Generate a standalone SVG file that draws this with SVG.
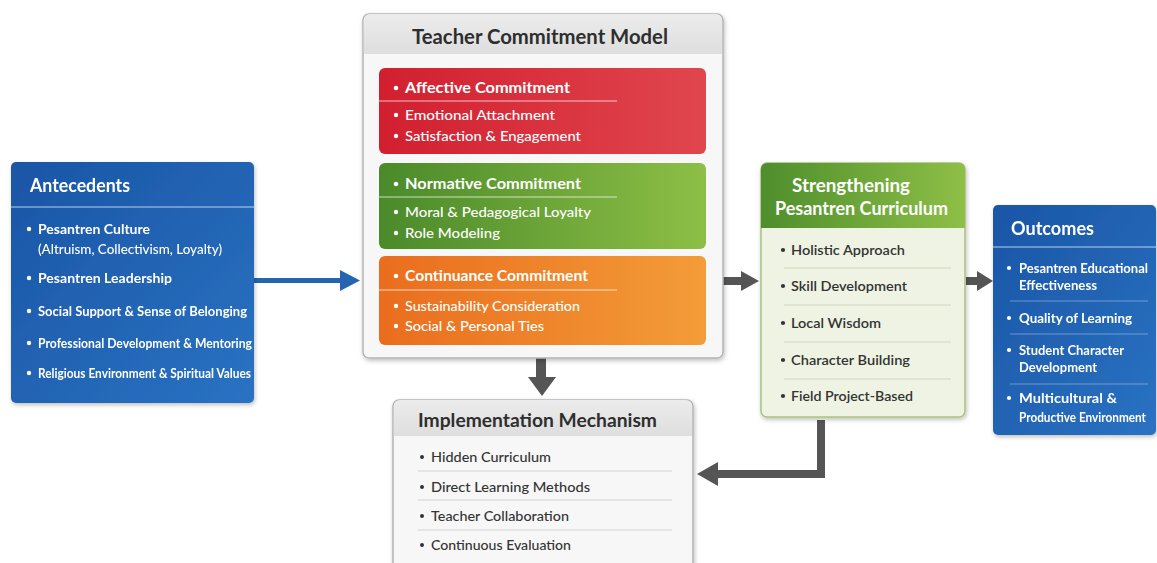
<svg xmlns="http://www.w3.org/2000/svg" width="1157" height="563" viewBox="0 0 1157 563">
  <defs>
    <linearGradient id="gBlue" x1="0" y1="0" x2="1" y2="1">
      <stop offset="0" stop-color="#1a55a6"/>
      <stop offset="1" stop-color="#2a72c2"/>
    </linearGradient>
    <linearGradient id="gRed" x1="0" y1="0" x2="1" y2="0">
      <stop offset="0" stop-color="#d21f2f"/>
      <stop offset="1" stop-color="#e0464e"/>
    </linearGradient>
    <linearGradient id="gGreen" x1="0" y1="0" x2="1" y2="0">
      <stop offset="0" stop-color="#4a8a2a"/>
      <stop offset="1" stop-color="#8dbf46"/>
    </linearGradient>
    <linearGradient id="gOrange" x1="0" y1="0" x2="1" y2="0">
      <stop offset="0" stop-color="#ea6d1e"/>
      <stop offset="1" stop-color="#f39c38"/>
    </linearGradient>
    <linearGradient id="gHead" x1="0" y1="0" x2="1" y2="0">
      <stop offset="0" stop-color="#4e8e2c"/>
      <stop offset="1" stop-color="#8ebf47"/>
    </linearGradient>
    <linearGradient id="gGrey" x1="0" y1="0" x2="0" y2="1">
      <stop offset="0" stop-color="#ececec"/>
      <stop offset="1" stop-color="#dedede"/>
    </linearGradient>
    <filter id="shadow" x="-10%" y="-10%" width="120%" height="120%">
      <feDropShadow dx="1" dy="2" stdDeviation="2" flood-color="#000" flood-opacity="0.25"/>
    </filter>
  </defs>
  <style>
    text { font-family: Lato, "Open Sans", "Liberation Sans", sans-serif; }
    .wt { fill: #ffffff; font-weight: 700; font-size: 14px; }
    .wh { fill: #ffffff; font-weight: 700; font-size: 18px; }
    .dk { fill: #333333; font-size: 14px; font-weight: 600; }
    .dh { fill: #2e2e2e; font-weight: 700; font-size: 20px; }
    .rg { font-weight: 400; }
    .md { font-weight: 500; }
    .s16 { font-size: 16px; }
    .s13 { font-size: 13px; }
    .s19 { font-size: 19px; }
    .bw { fill: #ffffff; }
    .bd { fill: #333333; }
    .sepw { stroke: #ffffff; stroke-opacity: 0.7; stroke-width: 1; }
    .sepf { stroke: #ffffff; stroke-opacity: 0.35; stroke-width: 1; }
    .sepd { stroke: #d2d2d2; stroke-width: 1; }
    .sepg { stroke: #cfd9bd; stroke-width: 1; }
    .conn { fill: #555555; }
  </style>

  <rect width="1157" height="563" fill="#ffffff"/>

  <!-- Connectors -->
  <g id="connectors">
    <!-- Antecedents to Teacher Commitment Model -->
    <rect x="254" y="278" width="88" height="5" fill="#2464b0"/>
    <polygon points="340,270 360,280.5 340,291" fill="#2464b0"/>
    <!-- Teacher Commitment Model to Implementation Mechanism -->
    <rect class="conn" x="536" y="358" width="10" height="22"/>
    <polygon class="conn" points="528,377 556,377 542,396"/>
    <!-- Teacher Commitment Model to Strengthening Curriculum -->
    <rect class="conn" x="723" y="277" width="20" height="8"/>
    <polygon class="conn" points="741,271 759,281 741,291"/>
    <!-- Strengthening Curriculum to Outcomes -->
    <rect class="conn" x="966" y="277" width="13" height="8"/>
    <polygon class="conn" points="977,271 993,281 977,291"/>
    <!-- Strengthening Curriculum back to Implementation Mechanism -->
    <path d="M821,420 V474 H714" fill="none" stroke="#555555" stroke-width="8"/>
    <polygon class="conn" points="718,462 697,474 718,486"/>
  </g>

  <!-- Antecedents -->
  <g id="antecedents" filter="url(#shadow)">
    <rect x="11" y="162" width="243" height="241" rx="5" fill="url(#gBlue)"/>
    <text class="wh" x="30" y="192" textLength="100" lengthAdjust="spacingAndGlyphs">Antecedents</text>
    <line class="sepw" x1="11" y1="207" x2="254" y2="207"/>
    <circle class="bw" cx="29" cy="229" r="2.2"/>
    <text class="wt" x="38" y="234" textLength="112" lengthAdjust="spacingAndGlyphs">Pesantren Culture</text>
    <text class="wt md" x="38" y="254" textLength="184" lengthAdjust="spacingAndGlyphs">(Altruism, Collectivism, Loyalty)</text>
    <circle class="bw" cx="29" cy="278" r="2.2"/>
    <text class="wt" x="38" y="283" textLength="134" lengthAdjust="spacingAndGlyphs">Pesantren Leadership</text>
    <circle class="bw" cx="29" cy="311" r="2.2"/>
    <text class="wt" x="38" y="316" textLength="209" lengthAdjust="spacingAndGlyphs">Social Support &amp; Sense of Belonging</text>
    <circle class="bw" cx="29" cy="343" r="2.2"/>
    <text class="wt" x="38" y="348" textLength="214" lengthAdjust="spacingAndGlyphs">Professional Development &amp; Mentoring</text>
    <circle class="bw" cx="29" cy="373" r="2.2"/>
    <text class="wt" x="38" y="378" textLength="213" lengthAdjust="spacingAndGlyphs">Religious Environment &amp; Spiritual Values</text>
  </g>

  <!-- Teacher Commitment Model -->
  <g id="teacher-commitment-model">
    <g filter="url(#shadow)">
      <rect x="363" y="14" width="360" height="344" rx="6" fill="#f7f7f7" stroke="#b4b4b4" stroke-width="1.5"/>
    </g>
    <path d="M363.75,54 V20 a6,6 0 0 1 6,-6 H716 a6,6 0 0 1 6,6 V54 Z" fill="url(#gGrey)"/>
    <text class="dh" x="412" y="44" textLength="256" lengthAdjust="spacingAndGlyphs">Teacher Commitment Model</text>

    <g id="affective-commitment">
      <rect x="379" y="68" width="327" height="86" rx="6" fill="url(#gRed)"/>
      <circle class="bw" cx="396" cy="88" r="2.3"/>
      <text class="wt s16" x="405" y="93" textLength="165" lengthAdjust="spacingAndGlyphs">Affective Commitment</text>
      <line class="sepw" x1="379" y1="101" x2="617" y2="101"/>
      <circle class="bw" cx="396" cy="115" r="2.2"/>
      <text class="wt md" x="405" y="120" textLength="150" lengthAdjust="spacingAndGlyphs">Emotional Attachment</text>
      <circle class="bw" cx="396" cy="136" r="2.2"/>
      <text class="wt md" x="405" y="141" textLength="176" lengthAdjust="spacingAndGlyphs">Satisfaction &amp; Engagement</text>
    </g>

    <g id="normative-commitment">
      <rect x="379" y="163" width="327" height="86" rx="6" fill="url(#gGreen)"/>
      <circle class="bw" cx="396" cy="184" r="2.3"/>
      <text class="wt s16" x="405" y="189" textLength="176" lengthAdjust="spacingAndGlyphs">Normative Commitment</text>
      <line class="sepw" x1="379" y1="197" x2="617" y2="197"/>
      <circle class="bw" cx="396" cy="212" r="2.2"/>
      <text class="wt md" x="405" y="217" textLength="186" lengthAdjust="spacingAndGlyphs">Moral &amp; Pedagogical Loyalty</text>
      <circle class="bw" cx="396" cy="233" r="2.2"/>
      <text class="wt md" x="405" y="238" textLength="95" lengthAdjust="spacingAndGlyphs">Role Modeling</text>
    </g>

    <g id="continuance-commitment">
      <rect x="379" y="256" width="327" height="89" rx="6" fill="url(#gOrange)"/>
      <circle class="bw" cx="396" cy="276" r="2.3"/>
      <text class="wt s16" x="405" y="281" textLength="183" lengthAdjust="spacingAndGlyphs">Continuance Commitment</text>
      <line class="sepw" x1="379" y1="290" x2="617" y2="290"/>
      <circle class="bw" cx="396" cy="306" r="2.2"/>
      <text class="wt md" x="405" y="311" textLength="175" lengthAdjust="spacingAndGlyphs">Sustainability Consideration</text>
      <circle class="bw" cx="396" cy="326" r="2.2"/>
      <text class="wt md" x="405" y="331" textLength="139" lengthAdjust="spacingAndGlyphs">Social &amp; Personal Ties</text>
    </g>
  </g>

  <!-- Implementation Mechanism -->
  <g id="implementation-mechanism">
    <g filter="url(#shadow)">
      <rect x="393" y="400" width="300" height="180" rx="6" fill="#f7f7f7" stroke="#b4b4b4" stroke-width="1.5"/>
    </g>
    <path d="M393.75,436 V406 a6,6 0 0 1 6,-6 H686 a6,6 0 0 1 6,6 V436 Z" fill="url(#gGrey)"/>
    <text class="dh s19" x="418" y="427" textLength="239" lengthAdjust="spacingAndGlyphs">Implementation Mechanism</text>
    <circle class="bd" cx="422" cy="457" r="2"/>
    <text class="dk md" x="431" y="462" textLength="120" lengthAdjust="spacingAndGlyphs">Hidden Curriculum</text>
    <line class="sepd" x1="418" y1="471" x2="672" y2="471"/>
    <circle class="bd" cx="422" cy="487" r="2"/>
    <text class="dk md" x="431" y="492" textLength="159" lengthAdjust="spacingAndGlyphs">Direct Learning Methods</text>
    <line class="sepd" x1="418" y1="500" x2="672" y2="500"/>
    <circle class="bd" cx="422" cy="516" r="2"/>
    <text class="dk md" x="431" y="521" textLength="138" lengthAdjust="spacingAndGlyphs">Teacher Collaboration</text>
    <line class="sepd" x1="418" y1="530" x2="672" y2="530"/>
    <circle class="bd" cx="422" cy="545" r="2"/>
    <text class="dk md" x="431" y="550" textLength="140" lengthAdjust="spacingAndGlyphs">Continuous Evaluation</text>
  </g>

  <!-- Strengthening Pesantren Curriculum -->
  <g id="strengthening-curriculum">
    <g filter="url(#shadow)">
      <rect x="761" y="163" width="204" height="254" rx="6" fill="#eef3e3" stroke="#a9c27e" stroke-width="1.5"/>
    </g>
    <path d="M761,228 V169 a6,6 0 0 1 6,-6 H959 a6,6 0 0 1 6,6 V228 Z" fill="url(#gHead)"/>
    <text class="wh" x="792" y="192" textLength="118" lengthAdjust="spacingAndGlyphs">Strengthening</text>
    <text class="wh" x="775" y="215" textLength="173" lengthAdjust="spacingAndGlyphs">Pesantren Curriculum</text>
    <circle class="bd" cx="783" cy="250" r="2.1"/>
    <text class="dk" x="791" y="255" textLength="114" lengthAdjust="spacingAndGlyphs">Holistic Approach</text>
    <line class="sepg" x1="784" y1="268" x2="951" y2="268"/>
    <circle class="bd" cx="783" cy="286" r="2.1"/>
    <text class="dk" x="791" y="291" textLength="116" lengthAdjust="spacingAndGlyphs">Skill Development</text>
    <line class="sepg" x1="784" y1="305" x2="951" y2="305"/>
    <circle class="bd" cx="783" cy="323" r="2.1"/>
    <text class="dk" x="791" y="328" textLength="90" lengthAdjust="spacingAndGlyphs">Local Wisdom</text>
    <line class="sepg" x1="784" y1="342" x2="951" y2="342"/>
    <circle class="bd" cx="783" cy="360" r="2.1"/>
    <text class="dk" x="791" y="365" textLength="119" lengthAdjust="spacingAndGlyphs">Character Building</text>
    <line class="sepg" x1="784" y1="379" x2="951" y2="379"/>
    <circle class="bd" cx="783" cy="396" r="2.1"/>
    <text class="dk" x="791" y="401" textLength="122" lengthAdjust="spacingAndGlyphs">Field Project-Based</text>
  </g>

  <!-- Outcomes -->
  <g id="outcomes" filter="url(#shadow)">
    <rect x="993" y="205" width="163" height="230" rx="5" fill="url(#gBlue)"/>
    <text class="wh" x="1011" y="235" textLength="83" lengthAdjust="spacingAndGlyphs">Outcomes</text>
    <line class="sepw" x1="993" y1="247" x2="1156" y2="247"/>
    <circle class="bw" cx="1009" cy="268" r="2.1"/>
    <text class="wt s13" x="1019" y="273" textLength="129" lengthAdjust="spacingAndGlyphs">Pesantren Educational</text>
    <text class="wt s13" x="1019" y="290" textLength="78" lengthAdjust="spacingAndGlyphs">Effectiveness</text>
    <line class="sepf" x1="1010" y1="301" x2="1148" y2="301"/>
    <circle class="bw" cx="1009" cy="318" r="2.1"/>
    <text class="wt s13" x="1019" y="323" textLength="113" lengthAdjust="spacingAndGlyphs">Quality of Learning</text>
    <line class="sepf" x1="1010" y1="334" x2="1148" y2="334"/>
    <circle class="bw" cx="1009" cy="350" r="2.1"/>
    <text class="wt s13" x="1019" y="355" textLength="105" lengthAdjust="spacingAndGlyphs">Student Character</text>
    <text class="wt s13" x="1019" y="372" textLength="78" lengthAdjust="spacingAndGlyphs">Development</text>
    <line class="sepf" x1="1010" y1="384" x2="1148" y2="384"/>
    <circle class="bw" cx="1009" cy="398" r="2.1"/>
    <text class="wt s13" x="1019" y="403" textLength="98" lengthAdjust="spacingAndGlyphs">Multicultural  &amp;</text>
    <text class="wt s13" x="1019" y="422" textLength="127" lengthAdjust="spacingAndGlyphs">Productive Environment</text>
  </g>
</svg>
